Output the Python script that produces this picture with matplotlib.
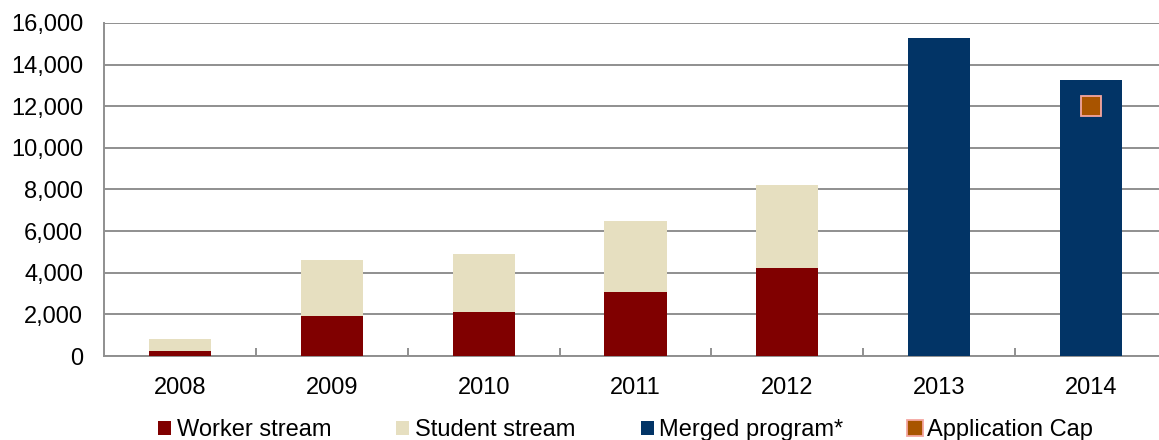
import matplotlib.pyplot as plt
from matplotlib.patches import Patch
from matplotlib.lines import Line2D
import numpy as np

# --- data ---
years = ["2008", "2009", "2010", "2011", "2012", "2013", "2014"]
worker = [240, 1930, 2120, 3070, 4220, 0, 0]
student = [560, 2670, 2770, 3440, 4000, 0, 0]
merged = [0, 0, 0, 0, 0, 15270, 13250]
cap_year = ["2014"]
cap_value = [12000]

WORKER_C = "#800000"
STUDENT_C = "#E6DFC0"
MERGED_C = "#023466"
CAP_C = "#A85400"
CAP_EDGE = "#F4A6A0"
GRID_C = "#8f8f8f"

plt.rcParams["font.family"] = ["Liberation Sans", "DejaVu Sans"]

fig = plt.figure(figsize=(11.59, 4.4), dpi=100)
ax = fig.add_axes([104 / 1159, 84 / 440, (1167 - 104) / 1159, 333 / 440])

x = np.arange(len(years))
w = 0.41
ax.bar(x, worker, w, color=WORKER_C, zorder=3)
ax.bar(x, student, w, bottom=worker, color=STUDENT_C, zorder=3)
ax.bar(x, merged, w, color=MERGED_C, zorder=3)
cap_x = [years.index(y) for y in cap_year]
ax.plot(cap_x, cap_value, linestyle="none", marker="s", markersize=14,
        markerfacecolor=CAP_C, markeredgecolor=CAP_EDGE, markeredgewidth=1.3, zorder=4)

ax.set_xlim(-0.5, len(years) - 0.5)
ax.set_ylim(0, 16000)
ax.set_yticks(range(0, 16001, 2000))
ax.set_yticklabels([f"{v:,}" for v in range(0, 16001, 2000)], fontsize=17)
ax.set_xticks(x)
ax.set_xticklabels(years, fontsize=17)
ax.tick_params(axis="x", length=0, pad=15)
ax.tick_params(axis="y", length=0, pad=15)
ax.set_xticks(x[:-1] + 0.5, minor=True)
ax.tick_params(axis="x", which="minor", direction="in", length=6, width=1.4, color=GRID_C)

ax.grid(axis="y", color=GRID_C, linewidth=1.4, zorder=0)
for s in ["top", "right"]:
    ax.spines[s].set_visible(False)
for s in ["left", "bottom"]:
    ax.spines[s].set_color(GRID_C)
    ax.spines[s].set_linewidth(1.4)

handles = [
    Patch(facecolor=WORKER_C),
    Patch(facecolor=STUDENT_C),
    Patch(facecolor=MERGED_C),
    Line2D([], [], linestyle="none", marker="s", markersize=11,
           markerfacecolor=CAP_C, markeredgecolor=CAP_EDGE, markeredgewidth=1.3),
]
labels = ["Worker stream", "Student stream", "Merged program*", "Application Cap"]
fig.legend(handles, labels, loc="center left", bbox_to_anchor=(158 / 1159, 1 - 430 / 440),
           ncol=4, frameon=False, borderpad=0, borderaxespad=0,
           handlelength=0.55, handleheight=0.55, handletextpad=0.25,
           columnspacing=2.75, prop={"size": 17})

fig.savefig("out.png", dpi=100)
